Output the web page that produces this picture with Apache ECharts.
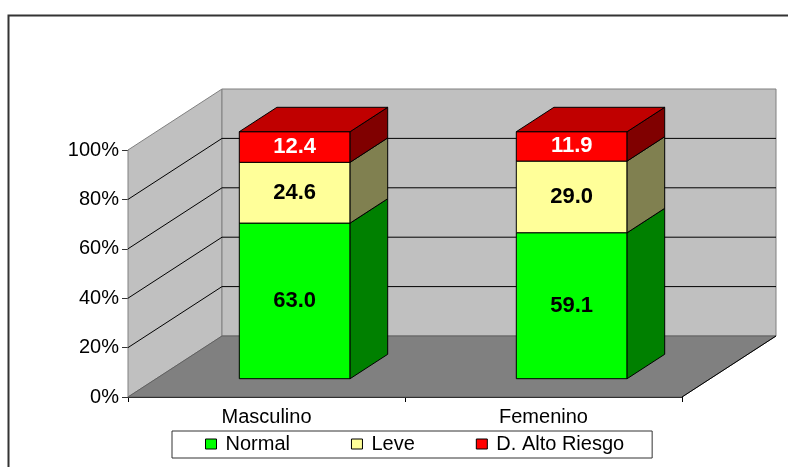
<!DOCTYPE html>
<html>
<head>
<meta charset="utf-8">
<script src="https://cdn.jsdelivr.net/npm/echarts@6/dist/echarts.min.js"></script>
<style>
  html, body { margin: 0; padding: 0; background: #fff; }
  #chart { width: 788px; height: 467px; }
</style>
</head>
<body>
<div id="chart"></div>
<script>
const categories = ["Masculino", "Femenino"];
const normal = [63.0, 59.1];
const leve = [24.6, 29.0];
const altoRiesgo = [12.4, 11.9];
const yTicks = [0, 20, 40, 60, 80, 100];

// 3D projection: full depth offset in px, bar position inside the depth
const DX = 94, DY = -61;
const BAR_F0 = 0.3, BAR_D = 0.4, BAR_W = 0.4;
const FONT = '"Liberation Sans", Arial, sans-serif';

const chart = echarts.init(document.getElementById("chart"));

function wallsItem(params, api) {
  const cs = params.coordSys;
  const L = cs.x, R = cs.x + cs.width;
  const yv = v => api.coord([0, v])[1];
  const y0 = yv(0), yTop = yv(yTicks[yTicks.length - 1]);
  const kids = [
    { type: "polygon", shape: { points: [[L, y0], [L, yTop], [L + DX, yTop + DY], [L + DX, y0 + DY]] },
      style: { fill: "#c0c0c0", stroke: "#808080", lineWidth: 1 } },
    { type: "polygon", shape: { points: [[L + DX, yTop + DY], [R + DX, yTop + DY], [R + DX, y0 + DY], [L + DX, y0 + DY]] },
      style: { fill: "#c0c0c0", stroke: "#808080", lineWidth: 1 } },
    { type: "polygon", shape: { points: [[L, y0], [R, y0], [R + DX, y0 + DY], [L + DX, y0 + DY]] },
      style: { fill: "#808080", stroke: "#606060", lineWidth: 1 } },
    { type: "line", shape: { x1: R, y1: y0, x2: R + DX, y2: y0 + DY },
      style: { stroke: "#000", lineWidth: 1 } },
  ];
  yTicks.slice(1, -1).forEach(v => {
    const y = yv(v);
    kids.push({ type: "line", shape: { x1: L, y1: y, x2: L + DX, y2: y + DY }, style: { stroke: "#000", lineWidth: 1 } });
    kids.push({ type: "line", shape: { x1: L + DX, y1: y + DY, x2: R + DX, y2: y + DY }, style: { stroke: "#000", lineWidth: 1 } });
  });
  return { type: "group", children: kids };
}

function barItem(front, side, top, textColor) {
  return function (params, api) {
    const cat = api.value(0), val = api.value(1), base = api.value(2);
    const pb = api.coord([cat, base]);
    const pt = api.coord([cat, base + val]);
    const w = api.size([1, 0])[0] * BAR_W;
    const ox = DX * BAR_F0, oy = DY * BAR_F0;
    const dx = DX * BAR_D, dy = DY * BAR_D;
    const x0 = pb[0] - w / 2 + ox, x1 = x0 + w;
    const yb = pb[1] + oy, yt = pt[1] + oy;
    const edge = { stroke: "#000", lineWidth: 1 };
    const kids = [
      { type: "polygon", shape: { points: [[x0, yb], [x1, yb], [x1, yt], [x0, yt]] }, style: Object.assign({ fill: front }, edge) },
      { type: "polygon", shape: { points: [[x1, yb], [x1, yt], [x1 + dx, yt + dy], [x1 + dx, yb + dy]] }, style: Object.assign({ fill: side }, edge) },
    ];
    if (top) {
      kids.push({ type: "polygon", shape: { points: [[x0, yt], [x1, yt], [x1 + dx, yt + dy], [x0 + dx, yt + dy]] }, style: Object.assign({ fill: top }, edge) });
    }
    kids.push({
      type: "text",
      style: {
        text: val.toFixed(1), x: (x0 + x1) / 2, y: (yb + yt) / 2,
        align: "center", verticalAlign: "middle",
        fill: textColor, font: "bold 22px " + FONT,
      },
    });
    return { type: "group", children: kids };
  };
}

const stackData = (vals, bases) => vals.map((v, i) => [i, v, bases.reduce((s, b) => s + b[i], 0)]);

chart.setOption({
  animation: false,
  graphic: [{
    type: "rect", left: 6, top: 13, shape: { width: 800, height: 470 },
    style: { fill: "none", stroke: "#333", lineWidth: 2 }, silent: true,
  }],
  grid: { left: 128, right: 106, top: 150, bottom: 70 },
  legend: {
    data: ["Normal", "Leve", "D. Alto Riesgo"],
    left: 172, top: 431,
    padding: [3, 28, 4, 33],
    itemGap: 61, itemWidth: 11, itemHeight: 10,
    icon: "rect",
    borderColor: "#333", borderWidth: 1,
    itemStyle: { borderColor: "#000", borderWidth: 1 },
    textStyle: { fontFamily: FONT, fontSize: 20, color: "#000", padding: [0, 0, 0, 4] },
  },
  xAxis: {
    type: "category",
    data: categories,
    axisLine: { lineStyle: { color: "#000", width: 1 } },
    axisTick: { show: true, length: 5, lineStyle: { color: "#000" } },
    axisLabel: { fontFamily: FONT, fontSize: 20, color: "#000", margin: 10 },
    splitLine: { show: false },
  },
  yAxis: {
    type: "value",
    min: 0, max: 100, interval: 20,
    axisLine: { show: true, lineStyle: { color: "#333", width: 1 } },
    axisTick: { show: true, length: 6, lineStyle: { color: "#333" } },
    axisLabel: { formatter: "{value}%", fontFamily: FONT, fontSize: 20, color: "#000", margin: 9 },
    splitLine: { show: false },
  },
  series: [
    { type: "custom", name: "walls", silent: true, clip: false, z: 1,
      renderItem: wallsItem, data: [[0, 0]] },
    { type: "custom", name: "Normal", clip: false, z: 2, itemStyle: { color: "#00ff00" },
      renderItem: barItem("#00ff00", "#008000", null, "#000"),
      encode: { x: 0, y: 1 }, data: stackData(normal, []) },
    { type: "custom", name: "Leve", clip: false, z: 2, itemStyle: { color: "#ffff99" },
      renderItem: barItem("#ffff99", "#808050", null, "#000"),
      encode: { x: 0, y: 1 }, data: stackData(leve, [normal]) },
    { type: "custom", name: "D. Alto Riesgo", clip: false, z: 2, itemStyle: { color: "#ff0000" },
      renderItem: barItem("#ff0000", "#800000", "#c00000", "#fff"),
      encode: { x: 0, y: 1 }, data: stackData(altoRiesgo, [normal, leve]) },
  ],
});
</script>
</body>
</html>
